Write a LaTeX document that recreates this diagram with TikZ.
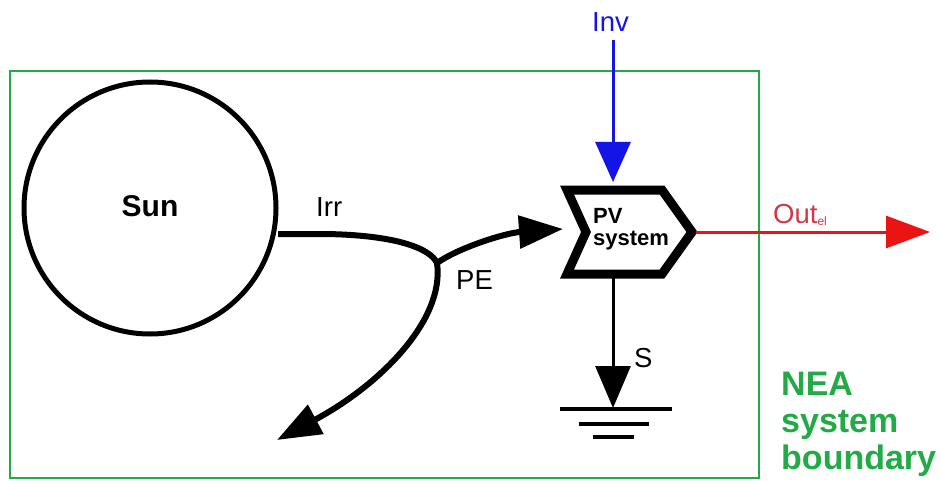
\documentclass[tikz,border=0pt]{standalone}
\usepackage{fontspec}
\setmainfont{Liberation Sans}
\usetikzlibrary{arrows.meta}
\definecolor{nea}{RGB}{34,170,70}
\definecolor{invblue}{RGB}{20,20,230}
\definecolor{outred}{RGB}{235,20,20}
\definecolor{outtxt}{RGB}{210,55,70}
\tikzset{
  lbl/.style={font=\fontsize{27.5}{32}\selectfont, inner sep=0pt},
  flow/.style={line width=6pt, -{Triangle[length=44pt,width=32pt]}},
  pvline/.style={line width=9pt, line join=miter, miter limit=10},
  groundline/.style={line width=4pt},
}
\begin{document}
\begin{tikzpicture}[x=1pt,y=-1pt]
\useasboundingbox (0,0) rectangle (941,481);
% boundary
\draw[nea, line width=2pt] (10,71) rectangle (759,478);
% Sun
\node[draw, circle, line width=5pt, minimum size=252pt, inner sep=0pt] (sun) at (150,208) {};
\node[anchor=base, inner sep=0pt, font=\fontsize{30}{34}\selectfont\bfseries] (suntxt) at (150,216) {Sun};
% PV system
\draw[pvline] (567,190) -- (662,190) -- (692,232) -- (662,274) -- (567,274) -- (586,232) -- cycle;
\coordinate (pvN) at (613,182);
\coordinate (pvS) at (613,278);
\coordinate (pvE) at (696,232);
\coordinate (pvW) at (563,229);
\node[anchor=base west, align=left, inner sep=0pt, font=\fontsize{22}{22}\selectfont\bfseries] (pvtxt) at (593,245) {PV\\system};
% irradiation flows
\coordinate (sunE) at (278,234);
\coordinate (junc) at (437,263);
\coordinate (lost) at (277,440);
\draw[line width=6pt] (sunE) -- (325,234) .. controls (395,235) and (430,248) .. (junc);
\draw[flow] (junc) .. controls (458,248) and (505,233) .. (pvW);
\draw[flow] (junc) .. controls (445,320) and (380,385) .. (lost);
\node[lbl, anchor=base west] (irr) at (316,216) {Irr};
\node[lbl, anchor=base west] (pe) at (456,289) {PE};
% Inv
\coordinate (invS) at (613,40);
\draw[invblue, line width=3pt, -{Triangle[length=40pt,width=35pt]}] (invS) -- (pvN);
\node[lbl, text=invblue, anchor=base west] (inv) at (592,32) {Inv};
% Out
\coordinate (outE) at (930,232);
\draw[outred, line width=3pt, -{Triangle[length=44pt,width=32pt]}] (pvE) -- (outE);
\node[lbl, text=outtxt, anchor=base west] (out) at (773,223) {Out\raisebox{-2pt}{\fontsize{12}{13}\selectfont el}};
% S to ground
\coordinate (gnd) at (613,408);
\draw[line width=3pt, -{Triangle[length=42pt,width=35pt]}] (pvS) -- (gnd);
\node[lbl, anchor=base west] (s) at (634,367) {S};
\draw[groundline] (560,409) -- (672,409);
\draw[groundline] (579,424) -- (649,424);
\draw[groundline] (593,437) -- (634,437);
% label
\node[anchor=base west, align=left, inner sep=0pt, text=nea, font=\fontsize{34}{37}\selectfont\bfseries] (nea) at (781,469) {NEA\\system\\boundary};
\end{tikzpicture}
\end{document}
